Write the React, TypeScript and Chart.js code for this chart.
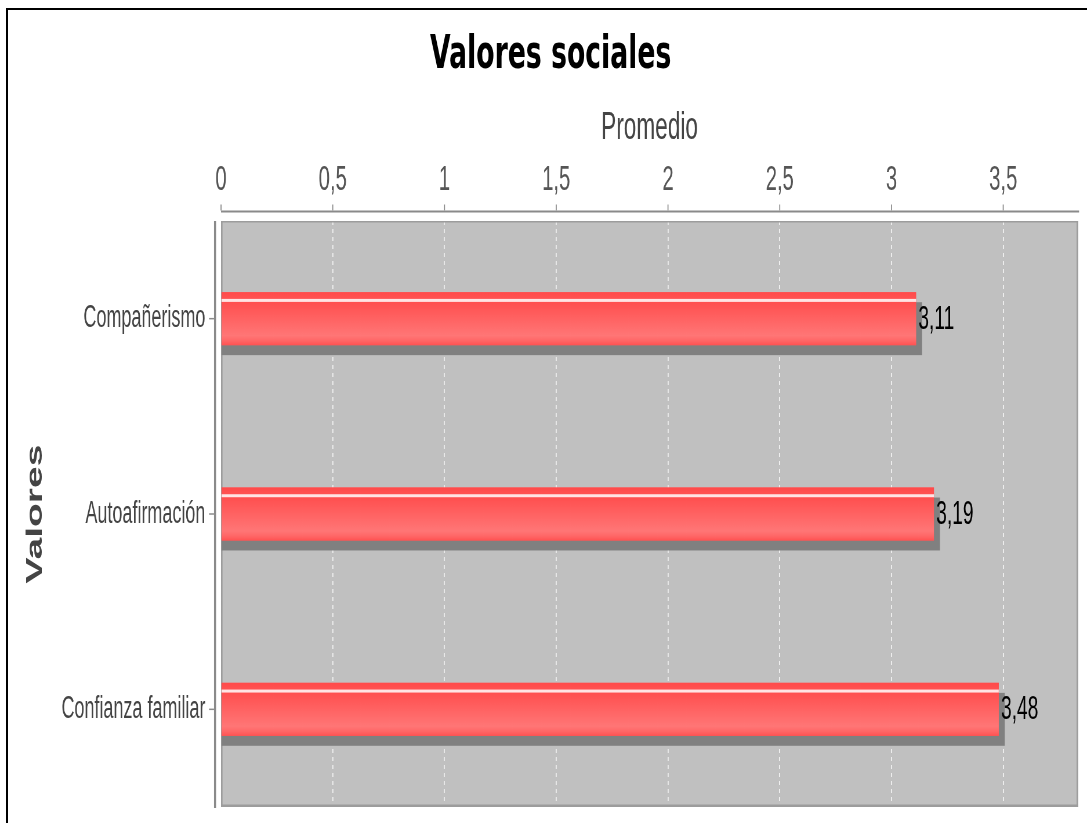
import React, { useEffect, useRef } from 'react';
import { Chart, registerables } from 'chart.js';

Chart.register(...registerables);

// ---- data ----
const categories = ['Compañerismo', 'Autoafirmación', 'Confianza familiar'];
const promedios = [3.11, 3.19, 3.48];
const axisMin = 0;
const axisMax = 3.835;
const axisStep = 0.5;
const chartTitle = 'Valores sociales';
const xAxisTitle = 'Promedio';
const yAxisTitle = 'Valores';

// ---- rendering geometry (reference is horizontally condensed) ----
const VIEW_W = 1087;
const VIEW_H = 823;
const SX = 0.58;
const RENDER_W = Math.round(VIEW_W / SX);
const px = (d: number) => d / SX;

const fmt = (v: number) => String(v).replace('.', ',');

const decorPlugin = {
  id: 'decor',
  beforeDraw(chart: any) {
    const { ctx, chartArea: a } = chart;
    ctx.save();
    ctx.fillStyle = '#c0c0c0';
    ctx.fillRect(a.left, a.top, a.right - a.left, a.bottom - a.top);
    ctx.restore();
  },
  beforeDatasetsDraw(chart: any) {
    const { ctx, chartArea: a, scales } = chart;
    ctx.save();
    // plot border
    ctx.fillStyle = '#9c9c9c';
    ctx.fillRect(a.left, a.top, a.right - a.left, 1.5);
    ctx.fillRect(a.left, a.bottom - 2.5, a.right - a.left, 2.5);
    ctx.fillRect(a.left, a.top, px(1.5), a.bottom - a.top);
    ctx.fillRect(a.right - px(1.5), a.top, px(1.5), a.bottom - a.top);
    // shadows
    const meta = chart.getDatasetMeta(0);
    ctx.fillStyle = '#808080';
    meta.data.forEach((el: any) => {
      const { x, y, base, height } = el.getProps(['x', 'y', 'base', 'height'], true);
      const top = y - height / 2;
      ctx.fillRect(base, top + 10, x + px(6) - base, height);
    });
    // top value axis line and ticks
    const xs = scales.x;
    const axisY = a.top - 10.5;
    ctx.fillStyle = '#8a8a8a';
    ctx.fillRect(a.left, axisY, a.right + px(1) - a.left, 2);
    xs.ticks.forEach((t: any) => {
      const xp = xs.getPixelForValue(t.value);
      ctx.fillRect(xp - px(0.5), axisY - 6, px(1), 6);
    });
    // left category axis line and ticks
    const ys = scales.y;
    const axisX = a.left - px(6);
    ctx.fillRect(axisX - px(1), a.top, px(2), a.bottom + 1 - a.top);
    categories.forEach((_, i) => {
      const yp = ys.getPixelForValue(i);
      ctx.fillRect(axisX - px(6), yp - 0.75, px(5), 1.5);
    });
    ctx.restore();
  },
  afterDatasetsDraw(chart: any) {
    const { ctx } = chart;
    const meta = chart.getDatasetMeta(0);
    ctx.save();
    meta.data.forEach((el: any, i: number) => {
      const { x, y, base, height } = el.getProps(['x', 'y', 'base', 'height'], true);
      const top = y - height / 2;
      const g = ctx.createLinearGradient(0, top, 0, top + height);
      g.addColorStop(0, '#ff4a4a');
      g.addColorStop(0.12, '#ff5252');
      g.addColorStop(0.2, '#ff5050');
      g.addColorStop(0.82, '#ff7676');
      g.addColorStop(0.92, '#ff6666');
      g.addColorStop(1, '#ff5252');
      ctx.fillStyle = g;
      ctx.fillRect(base, top, x - base, height);
      ctx.fillStyle = 'rgba(255,236,236,0.95)';
      ctx.fillRect(base, top + 6.7, x - base, 3);
      // value label
      ctx.fillStyle = '#000';
      ctx.font = '33px "Liberation Sans"';
      ctx.textAlign = 'left';
      ctx.textBaseline = 'middle';
      ctx.fillText(promedios[i].toFixed(2).replace('.', ','), x + px(2.3), y + 1);
    });
    ctx.restore();
  },
};

export default function App() {
  const ref = useRef<HTMLCanvasElement | null>(null);

  useEffect(() => {
    if (!ref.current) return;
    const chart = new Chart(ref.current, {
      type: 'bar',
      data: {
        labels: categories,
        datasets: [
          {
            data: promedios,
            backgroundColor: '#ff5a5a',
            borderWidth: 0,
            barPercentage: 0.271,
            categoryPercentage: 1,
          },
        ],
      },
      options: {
        indexAxis: 'y',
        responsive: false,
        animation: false,
        layout: {
          padding: { left: 40, right: RENDER_W - px(1078), top: 0, bottom: VIEW_H - 807 },
        },
        plugins: {
          legend: { display: false },
          tooltip: { enabled: false },
          title: {
            display: true,
            text: chartTitle,
            color: '#000',
            font: { family: '"DejaVu Sans"', size: 46, weight: 'bold' },
            padding: { top: 28, bottom: 0 },
          },
        },
        scales: {
          x: {
            position: 'top',
            min: axisMin,
            max: axisMax,
            ticks: {
              stepSize: axisStep,
              includeBounds: false,
              padding: 19.5,
              color: '#555',
              font: { family: '"Liberation Sans"', size: 35 },
              maxRotation: 0,
              autoSkip: false,
              callback: (v: any) => fmt(Number(v)),
            },
            grid: {
              display: true,
              drawTicks: false,
              color: 'rgba(255,255,255,0.8)',
              lineWidth: px(1),
            },
            border: { display: false, dash: [4, 4] },
            title: {
              display: true,
              text: xAxisTitle,
              color: '#444',
              font: { family: '"Liberation Sans"', size: 39 },
              padding: { top: 21.2, bottom: 0 },
            },
            afterFit: (s: any) => {
              s.height = 221 - (28 + 46 * 1.2);
            },
          },
          y: {
            ticks: {
              padding: 19,
              color: '#444',
              font: { family: '"Liberation Sans"', size: 31 },
            },
            grid: { display: false },
            border: { display: false },
            title: {
              display: true,
              text: yAxisTitle,
              color: '#444',
              font: { family: '"Liberation Sans"', size: 39, weight: 'bold', lineHeight: 1 },
              padding: { top: 1.7, bottom: 0 },
            },
            afterFit: (s: any) => {
              s.width = px(221) - 40;
              s.paddingTop = 0;
              s.paddingBottom = 0;
            },
          },
        },
      },
      plugins: [decorPlugin],
    } as any);
    return () => chart.destroy();
  }, []);

  return (
    <div
      style={{
        position: 'fixed',
        left: 0,
        top: 0,
        width: VIEW_W,
        height: VIEW_H,
        overflow: 'hidden',
        background: '#fff',
      }}
    >
      <div
        style={{
          position: 'absolute',
          left: 0,
          top: 0,
          width: RENDER_W,
          height: VIEW_H,
          transform: `scaleX(${VIEW_W / RENDER_W})`,
          transformOrigin: '0 0',
        }}
      >
        <canvas ref={ref} width={RENDER_W} height={VIEW_H} />
      </div>
      <div
        style={{
          position: 'absolute',
          left: 6,
          top: 8,
          right: -20,
          bottom: -20,
          borderLeft: '2px solid #000',
          borderTop: '2px solid #000',
          pointerEvents: 'none',
        }}
      />
    </div>
  );
}
